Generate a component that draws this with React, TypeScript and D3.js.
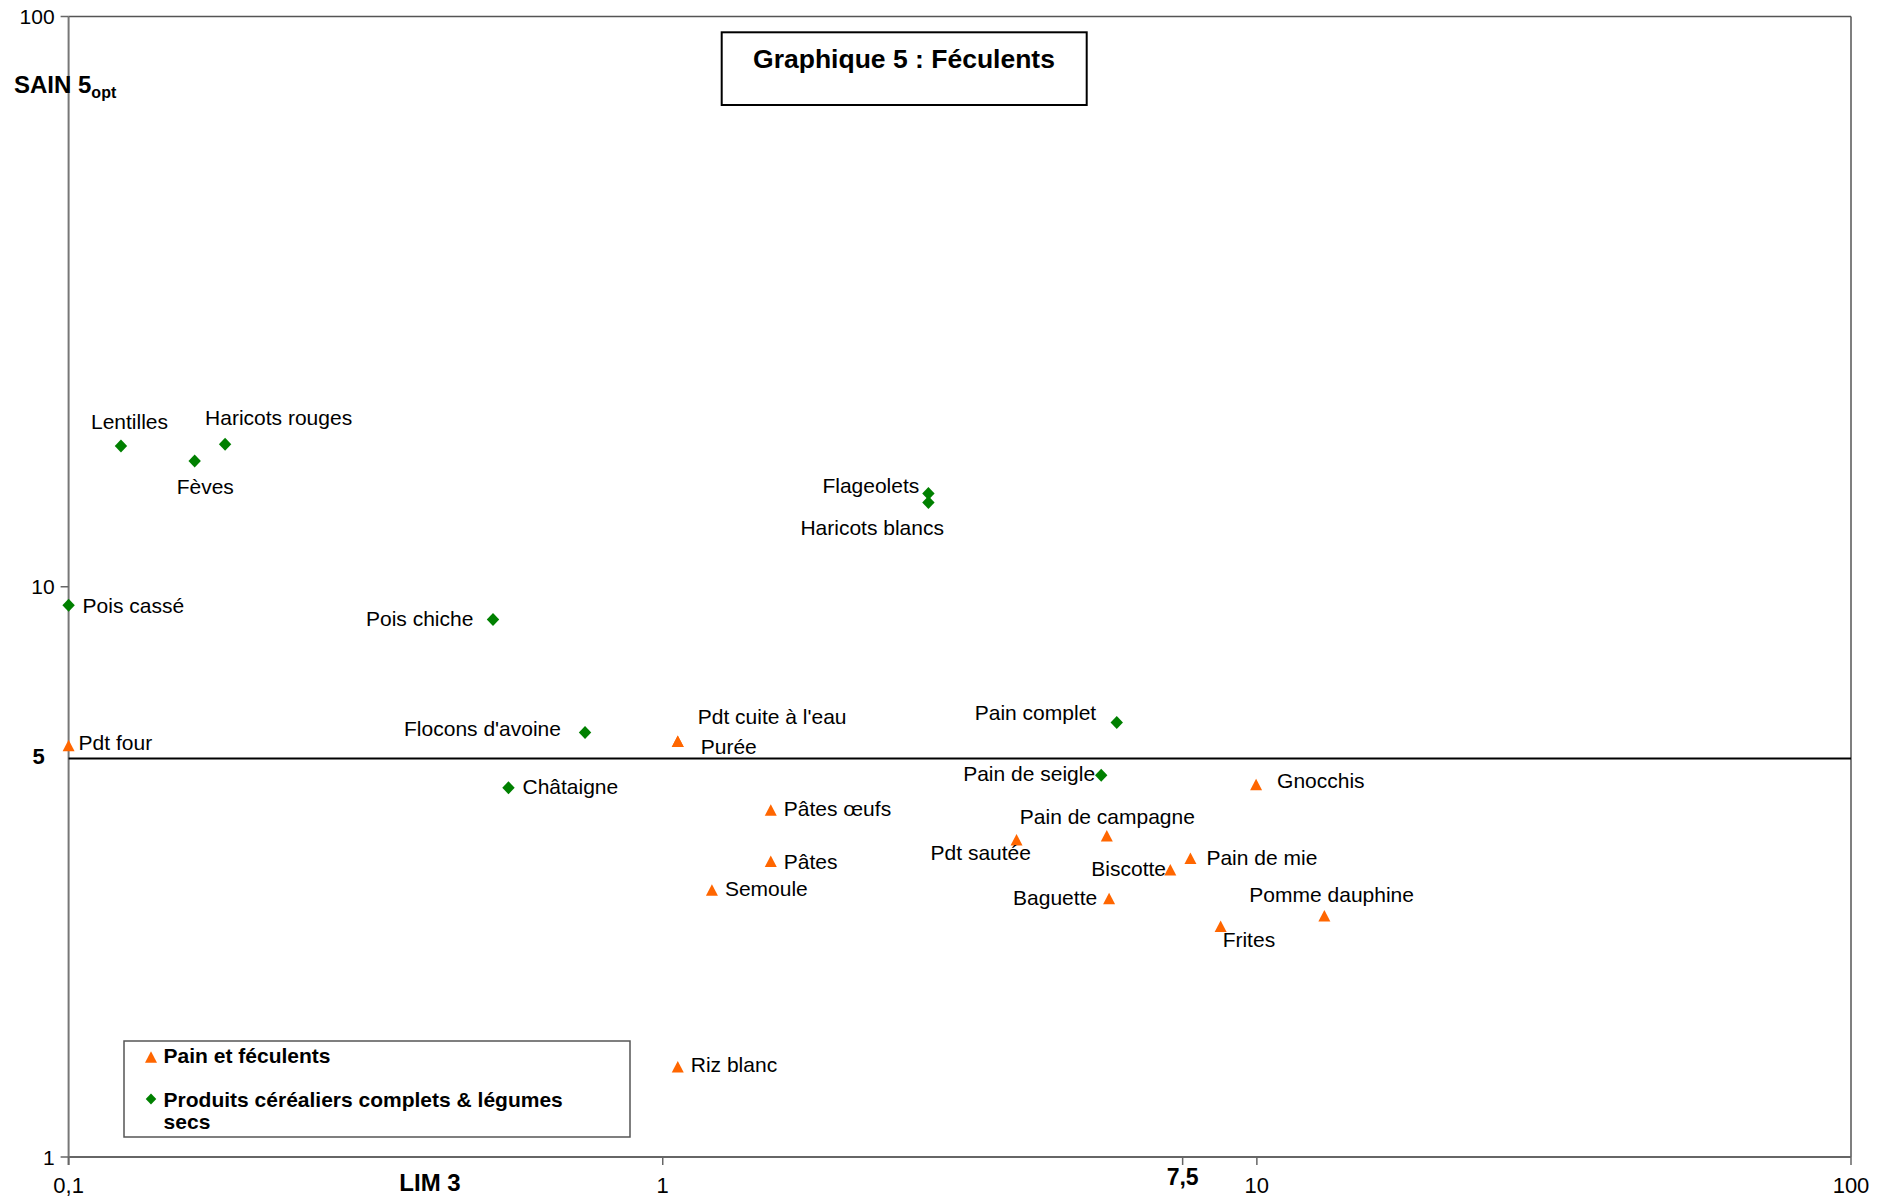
import React from "react";
import * as d3 from "d3";

// Pain et féculents (orange triangles): LIM score vs SAIN score
const painNames = [
  "Pdt four", "Pdt cuite à l'eau", "Purée", "Pâtes œufs", "Pâtes", "Semoule",
  "Riz blanc", "Pdt sautée", "Pain de campagne", "Baguette", "Biscotte",
  "Pain de mie", "Gnocchis", "Frites", "Pomme dauphine",
];
const painLim = [0.1, 1.06, 1.06, 1.52, 1.52, 1.21, 1.06, 3.94, 5.59, 5.64, 7.15, 7.73, 9.97, 8.69, 12.99];
const painSain = [5.27, 5.36, 5.36, 4.06, 3.3, 2.94, 1.44, 3.6, 3.66, 2.84, 3.19, 3.34, 4.5, 2.54, 2.65];

// Produits céréaliers complets & légumes secs (green diamonds)
const cerealNames = [
  "Lentilles", "Fèves", "Haricots rouges", "Pois cassé", "Pois chiche",
  "Flocons d'avoine", "Châtaigne", "Flageolets", "Haricots blancs",
  "Pain complet", "Pain de seigle",
];
const cerealLim = [0.1225, 0.163, 0.1834, 0.1, 0.518, 0.74, 0.55, 2.8, 2.8, 5.81, 5.47];
const cerealSain = [17.66, 16.62, 17.78, 9.28, 8.76, 5.55, 4.44, 14.57, 14.05, 5.78, 4.67];

const xTicks = [0.1, 1, 10, 100];
const xTickLabels = ["0,1", "1", "10", "100"];
const yTicks = [1, 10, 100];
const yTickLabels = ["1", "10", "100"];
const limThreshold = 7.5;
const sainThreshold = 5;

// label placement relative to each marker: [dx to text start, dy to baseline]
const labelOffset: Record<string, [number, number]> = {
  "Lentilles": [-30, -17],
  "Haricots rouges": [-20, -19],
  "Fèves": [-18, 33],
  "Flageolets": [-106, -1],
  "Haricots blancs": [-128, 32],
  "Pois cassé": [14, 8],
  "Pdt four": [10, 5],
  "Pois chiche": [-127, 6],
  "Flocons d'avoine": [-181, 3],
  "Pdt cuite à l'eau": [20, -17],
  "Purée": [23, 13],
  "Châtaigne": [14, 6],
  "Pâtes œufs": [13, 6],
  "Pâtes": [13, 8],
  "Semoule": [13, 6],
  "Pain de seigle": [-138, 6],
  "Pdt sautée": [-86, 20],
  "Pain de campagne": [-87, -12],
  "Baguette": [-96, 7],
  "Biscotte": [-79, 6],
  "Pain complet": [-142, -3],
  "Gnocchis": [21, 3],
  "Pain de mie": [16, 7],
  "Pomme dauphine": [-75, -14],
  "Frites": [2, 21],
  "Riz blanc": [13, 5],
};

const ORANGE = "#FF6600";
const GREEN = "#008000";
const FONT = "'Liberation Sans', Arial, sans-serif";

const W = 1887;
const H = 1200;
const left = 68.6;
const right = 1851;
const top = 16.5;
const bottom = 1157;

const triangle = "M0,-5.75L6,5.75L-6,5.75Z";
const diamond = "M0,-6.5L6.2,0L0,6.5L-6.2,0Z";

export default function App() {
  const x = d3.scaleLog().domain([0.1, 100]).range([left, right]);
  const y = d3.scaleLog().domain([1, 100]).range([bottom, top]);

  const pain = painNames.map((n, i) => ({ name: n, lim: painLim[i], sain: painSain[i] }));
  const cereal = cerealNames.map((n, i) => ({ name: n, lim: cerealLim[i], sain: cerealSain[i] }));

  const label = (d: { name: string; lim: number; sain: number }) => {
    const [dx, dy] = labelOffset[d.name] || [12, 6];
    return (
      <text key={"l-" + d.name} x={x(d.lim) + dx} y={y(d.sain) + dy} fontSize={21} fill="#000">
        {d.name}
      </text>
    );
  };

  return (
    <svg width={W} height={H} style={{ position: "absolute", left: 0, top: 0, background: "#fff" }} fontFamily={FONT}>
      <rect x={0} y={0} width={W} height={H} fill="#fff" />

      {/* plot frame */}
      <line x1={left} x2={right} y1={top} y2={top} stroke="#555" strokeWidth={1.5} />
      <line x1={right} x2={right} y1={top} y2={bottom} stroke="#555" strokeWidth={1.5} />
      <line x1={left} x2={right} y1={bottom} y2={bottom} stroke="#666" strokeWidth={1.8} />
      <line x1={left} x2={left} y1={top} y2={bottom + 8} stroke="#777" strokeWidth={2} />

      {/* y ticks */}
      {yTicks.map((t, i) => (
        <g key={"yt" + t}>
          <line x1={left - 8} x2={left} y1={y(t)} y2={y(t)} stroke="#666" strokeWidth={1.5} />
          <text x={left - 14} y={y(t) + 7.5} textAnchor="end" fontSize={21}>
            {yTickLabels[i]}
          </text>
        </g>
      ))}

      {/* x ticks */}
      {xTicks.map((t, i) => (
        <g key={"xt" + t}>
          <line x1={x(t)} x2={x(t)} y1={bottom} y2={bottom + 8} stroke="#666" strokeWidth={1.5} />
          <text x={x(t)} y={bottom + 36} textAnchor="middle" fontSize={22}>
            {xTickLabels[i]}
          </text>
        </g>
      ))}
      <line x1={x(limThreshold)} x2={x(limThreshold)} y1={bottom} y2={bottom + 8} stroke="#666" strokeWidth={1.5} />
      <text x={x(limThreshold)} y={bottom + 28} textAnchor="middle" fontSize={23} fontWeight="bold">
        7,5
      </text>

      {/* SAIN threshold line */}
      <line x1={left} x2={right} y1={y(sainThreshold)} y2={y(sainThreshold)} stroke="#000" strokeWidth={2} />
      <text x={38.5} y={y(sainThreshold) + 6} textAnchor="middle" fontSize={22} fontWeight="bold">
        5
      </text>

      {/* axis titles */}
      <text x={14} y={92.7} fontSize={24} fontWeight="bold">
        SAIN 5<tspan fontSize={16} dy={5}>opt</tspan>
      </text>
      <text x={430} y={bottom + 34} textAnchor="middle" fontSize={24} fontWeight="bold">
        LIM 3
      </text>

      {/* chart title */}
      <rect x={721.7} y={32.3} width={365} height={72.7} fill="#fff" stroke="#000" strokeWidth={2} />
      <text x={904} y={68.3} textAnchor="middle" fontSize={26.5} fontWeight="bold">
        Graphique 5 : Féculents
      </text>

      {/* markers */}
      {cereal.map((d) => (
        <path key={"c-" + d.name} d={diamond} transform={`translate(${x(d.lim)},${y(d.sain)})`} fill={GREEN} />
      ))}
      {pain.map((d) => (
        <path key={"p-" + d.name} d={triangle} transform={`translate(${x(d.lim)},${y(d.sain)})`} fill={ORANGE} />
      ))}

      {/* point labels */}
      {cereal.map(label)}
      {pain.map(label)}

      {/* legend */}
      <rect x={124} y={1041} width={506} height={96} fill="#fff" stroke="#555" strokeWidth={1.5} />
      <path d={triangle} transform="translate(151,1057)" fill={ORANGE} />
      <text x={163.6} y={1063.3} fontSize={21} fontWeight="bold">
        Pain et féculents
      </text>
      <path d={diamond} transform="translate(151,1099) scale(0.85)" fill={GREEN} />
      <text x={163.6} y={1107} fontSize={21} fontWeight="bold">
        Produits céréaliers complets &amp; légumes
      </text>
      <text x={163.6} y={1129} fontSize={21} fontWeight="bold">
        secs
      </text>
    </svg>
  );
}
